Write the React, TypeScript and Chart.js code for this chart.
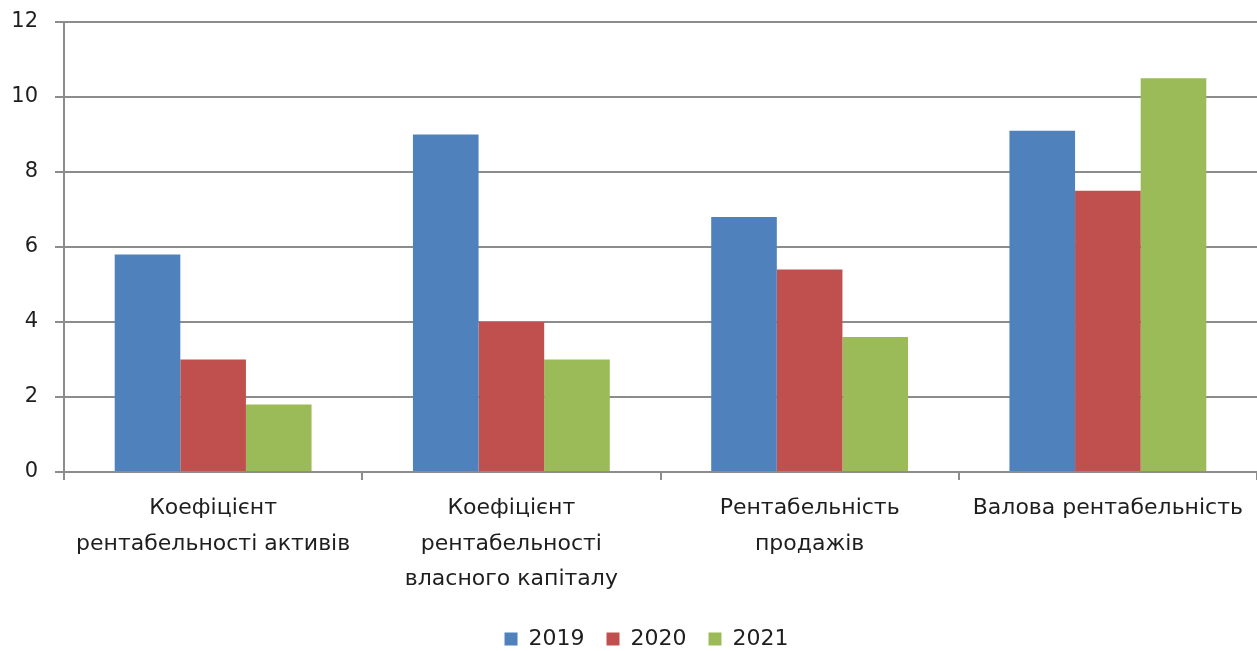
import React, { useEffect, useRef } from "react";
import { Chart, registerables } from "chart.js";

Chart.register(...registerables);

const categories: string[][] = [
  ["Коефіцієнт", "рентабельності активів"],
  ["Коефіцієнт", "рентабельності", "власного капіталу"],
  ["Рентабельність", "продажів"],
  ["Валова рентабельність"],
];

const seriesNames = ["2019", "2020", "2021"];
const values2019 = [5.8, 9.0, 6.8, 9.1];
const values2020 = [3.0, 4.0, 5.4, 7.5];
const values2021 = [1.8, 3.0, 3.6, 10.5];
const seriesColors = ["#4F81BD", "#C0504D", "#9BBB59"];
const yTicks = [0, 2, 4, 6, 8, 10, 12];

const FONT = "'DejaVu Sans', sans-serif";
const TEXT = "#1e1e1e";
const LINE = "#8c8c8c";

// Nudges the legend a little to the right of the canvas centre.
const legendOffset = {
  id: "legendOffset",
  afterLayout(chart: any) {
    const lg = chart.legend;
    if (lg) {
      lg.left += 18;
      lg.right += 18;
    }
  },
};

export default function App() {
  const ref = useRef<HTMLCanvasElement | null>(null);

  useEffect(() => {
    document.body.style.margin = "0";
    const canvas = ref.current;
    if (!canvas) return;
    const seriesValues = [values2019, values2020, values2021];
    const chart = new Chart(canvas, {
      type: "bar",
      data: {
        labels: categories,
        datasets: seriesNames.map((name, i) => ({
          label: name,
          data: seriesValues[i],
          backgroundColor: seriesColors[i],
          borderWidth: 0,
          categoryPercentage: 0.66,
          barPercentage: 1.0,
        })),
      },
      plugins: [legendOffset],
      options: {
        responsive: false,
        animation: false,
        maintainAspectRatio: false,
        layout: { padding: { top: 0, right: 0, bottom: -9, left: 0 } },
        plugins: {
          tooltip: { enabled: false },
          legend: {
            position: "bottom",
            labels: {
              boxWidth: 13,
              boxHeight: 13,
              padding: 22,
              color: TEXT,
              font: { family: FONT, size: 22 },
            },
          },
        },
        scales: {
          x: {
            grid: {
              offset: true,
              drawOnChartArea: false,
              tickLength: 8,
              color: LINE,
              lineWidth: 2,
            },
            border: { color: LINE, width: 2 },
            ticks: {
              color: TEXT,
              maxRotation: 0,
              autoSkip: false,
              padding: 11,
              font: { family: FONT, size: 22, lineHeight: 1.6 },
            },
            afterFit: (scale: any) => {
              scale.height = 134;
            },
          },
          y: {
            min: 0,
            max: 12,
            afterBuildTicks: (scale: any) => {
              scale.ticks = yTicks.map((v) => ({ value: v }));
            },
            grid: {
              color: LINE,
              lineWidth: 2,
              tickLength: 9,
            },
            border: { color: LINE, width: 2 },
            ticks: {
              color: TEXT,
              padding: 17,
              font: { family: FONT, size: 21 },
            },
            afterFit: (scale: any) => {
              scale.width = 64;
              scale.paddingTop = 22;
              scale.paddingBottom = 0;
            },
          },
        },
      },
    });
    return () => chart.destroy();
  }, []);

  return <canvas ref={ref} width={1257} height={651} style={{ display: "block" }} />;
}
